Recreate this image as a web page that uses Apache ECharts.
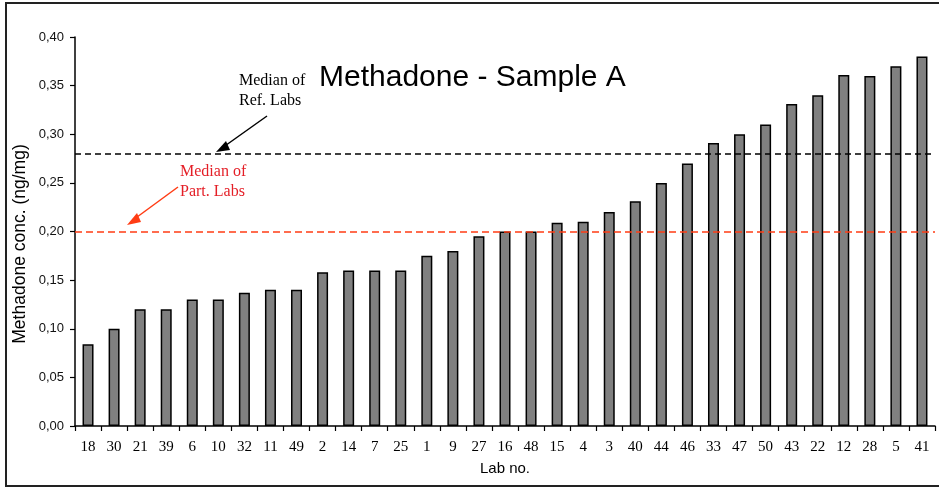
<!DOCTYPE html>
<html>
<head>
<meta charset="utf-8">
<style>
  html, body { margin: 0; padding: 0; background: #fff; }
  #chart { width: 939px; height: 488px; }
</style>
<script src="https://cdn.jsdelivr.net/npm/echarts@6/dist/echarts.min.js"></script>
</head>
<body>
<div id="chart"></div>
<script>
// Lab numbers, ordered by reported concentration
const labs = ['18','30','21','39','6','10','32','11','49','2','14','7','25','1','9','27','16','48','15','4','3','40','44','46','33','47','50','43','22','12','28','5','41'];
// Methadone concentration per lab (ng/mg)
const conc = [0.084,0.10,0.12,0.12,0.13,0.13,0.137,0.14,0.14,0.158,0.16,0.16,0.16,0.175,0.18,0.195,0.20,0.20,0.209,0.21,0.22,0.231,0.25,0.27,0.291,0.30,0.31,0.331,0.34,0.361,0.36,0.37,0.38];
// Reference medians
const medianRef = 0.278;
const medianPart = 0.20;
// Value axis ticks
const yMin = 0, yMax = 0.40, yStep = 0.05;

const chart = echarts.init(document.getElementById('chart'), null, { renderer: 'canvas' });

const sans = 'Liberation Sans, Arial, sans-serif';
const serif = 'Liberation Serif, Times New Roman, serif';

const option = {
  backgroundColor: '#fff',
  animation: false,
  title: {
    text: 'Methadone - Sample A',
    left: 314,
    top: 58,
    textStyle: { fontFamily: sans, fontSize: 30, fontWeight: 'normal', color: '#000' }
  },
  grid: { left: 75, right: 4, top: 37, bottom: 62, containLabel: false },
  xAxis: {
    type: 'category',
    data: labs,
    name: 'Lab no.',
    nameLocation: 'middle',
    nameGap: 35,
    nameTextStyle: { fontFamily: sans, fontSize: 15, color: '#000' },
    axisLine: { lineStyle: { color: '#000', width: 1.5 } },
    axisTick: { show: true, length: 5, lineStyle: { color: '#000', width: 1.2 } },
    axisLabel: { interval: 0, margin: 14, fontFamily: serif, fontSize: 15, color: '#000' }
  },
  yAxis: {
    type: 'value',
    min: yMin, max: yMax, interval: yStep,
    axisLine: { show: true, lineStyle: { color: '#000', width: 1.5 } },
    axisTick: { show: true, length: 5, lineStyle: { color: '#000', width: 1.2 } },
    splitLine: { show: false },
    axisLabel: {
      margin: 11, fontFamily: sans, fontSize: 13, color: '#111',
      formatter: v => v.toFixed(2).replace('.', ',')
    }
  },
  series: [{
    type: 'bar',
    data: conc,
    barWidth: 11,
    itemStyle: { color: '#808080', borderColor: '#000', borderWidth: 1.5 },
    markLine: {
      silent: true,
      symbol: 'none',
      label: { show: false },
      data: [
        { yAxis: medianRef, lineStyle: { color: '#000', type: [6, 4], width: 1.5 } },
        { yAxis: medianPart, lineStyle: { color: '#ff3c14', type: [7, 4], width: 1.5 } }
      ]
    }
  }],
  graphic: [
    // chart frame
    { type: 'rect', shape: { x: 6, y: 3, width: 945, height: 483 },
      style: { fill: 'none', stroke: '#222', lineWidth: 2 }, z: 100 },
    // value axis title
    { type: 'text', x: 20, y: 244, rotation: Math.PI / 2,
      style: { text: 'Methadone conc. (ng/mg)', fontFamily: sans, fontSize: 17.5,
               fill: '#000', align: 'center', verticalAlign: 'middle' } },
    // reference-lab median note
    { type: 'text', left: 239, top: 71,
      style: { text: 'Median of\nRef. Labs', fontFamily: serif, fontSize: 16, lineHeight: 20, fill: '#000' } },
    { type: 'line', shape: { x1: 267, y1: 116, x2: 222, y2: 148 },
      style: { stroke: '#000', lineWidth: 1.5 } },
    { type: 'polygon', shape: { points: [[216, 152], [226, 141], [230, 150]] },
      style: { fill: '#000' } },
    // participant-lab median note
    { type: 'text', left: 180, top: 162,
      style: { text: 'Median of\nPart. Labs', fontFamily: serif, fontSize: 16, lineHeight: 20, fill: '#e41e26' } },
    { type: 'line', shape: { x1: 178, y1: 187, x2: 133, y2: 220 },
      style: { stroke: '#ff3c14', lineWidth: 1.5 } },
    { type: 'polygon', shape: { points: [[127, 225], [137, 213], [141, 222]] },
      style: { fill: '#ff3c14' } }
  ]
};

chart.setOption(option);
</script>
</body>
</html>
